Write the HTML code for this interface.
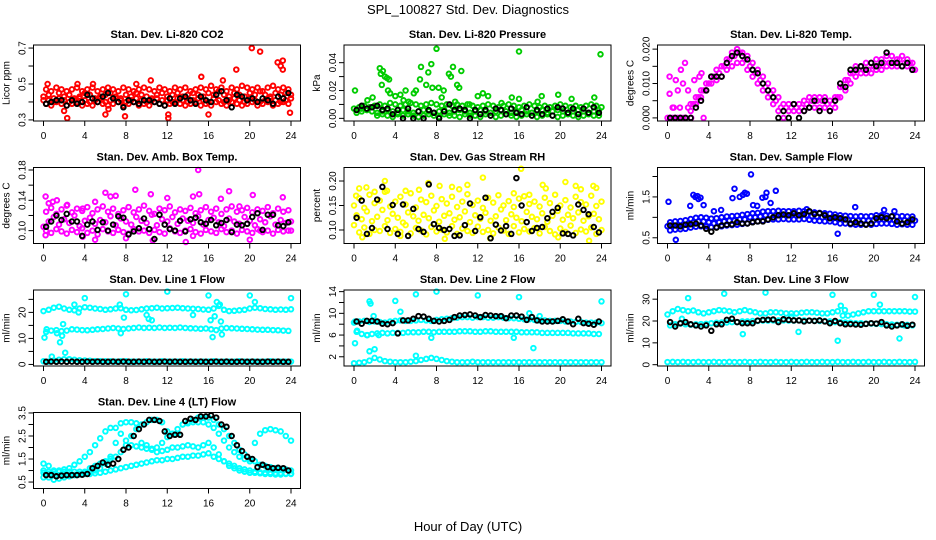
<!DOCTYPE html>
<html><head><meta charset="utf-8"><title>SPL_100827 Std. Dev. Diagnostics</title>
<style>
html,body{margin:0;padding:0;background:#fff;}
svg{display:block;font-family:"Liberation Sans",Arial,sans-serif;}
</style></head>
<body>
<svg id="chart" width="936" height="540" viewBox="0 0 936 540" xmlns="http://www.w3.org/2000/svg">
<rect x="0" y="0" width="936" height="540" fill="#fff"/>
<text x="468" y="14" text-anchor="middle" font-size="13">SPL_100827  Std. Dev. Diagnostics</text>
<text x="468" y="531" text-anchor="middle" font-size="13">Hour of Day (UTC)</text>
</svg>
<script>
// shared hour categories
const hA = [0,0.5,1,1.5,2,2.5,3,3.5,4,4.5,5,5.5,6,6.5,7,7.5,8,8.5,9,9.5,10,10.5,11,11.5,12,12.5,13,13.5,14,14.5,15,15.5,16,16.5,17,17.5,18,18.5,19,19.5,20,20.5,21,21.5,22,22.5,23,23.5,24];
const hB = [0.25,0.75,1.25,1.75,2.25,2.75,3.25,3.75,4.25,4.75,5.25,5.75,6.25,6.75,7.25,7.75,8.25,8.75,9.25,9.75,10.25,10.75,11.25,11.75,12.25,12.75,13.25,13.75,14.25,14.75,15.25,15.75,16.25,16.75,17.25,17.75,18.25,18.75,19.25,19.75,20.25,20.75,21.25,21.75,22.25,22.75,23.25,23.75];
const xTicks = [0,4,8,12,16,20,24];

// CO2
const co2A = [0.43,0.44,0.42,0.45,0.43,0.44,0.42,0.43,0.45,0.44,0.42,0.43,0.44,0.45,0.43,0.42,0.44,0.43,0.45,0.44,0.43,0.42,0.44,0.45,0.43,0.44,0.45,0.43,0.44,0.45,0.44,0.43,0.45,0.44,0.46,0.44,0.43,0.45,0.44,0.43,0.45,0.44,0.46,0.44,0.43,0.45,0.44,0.45,0.44];
const co2B = [0.39,0.38,0.40,0.39,0.38,0.39,0.40,0.38,0.39,0.38,0.40,0.39,0.38,0.39,0.40,0.38,0.39,0.40,0.38,0.39,0.38,0.40,0.39,0.38,0.39,0.40,0.39,0.38,0.39,0.40,0.38,0.39,0.38,0.40,0.39,0.38,0.40,0.39,0.38,0.39,0.40,0.38,0.39,0.40,0.38,0.39,0.40,0.39];
const co2C = [0.47,0.46,0.48,0.47,0.46,0.47,0.48,0.46,0.47,0.48,0.46,0.47,0.48,0.47,0.46,0.48,0.47,0.46,0.47,0.48,0.47,0.46,0.48,0.47,0.46,0.48,0.47,0.48,0.46,0.47,0.48,0.47,0.49,0.47,0.48,0.46,0.48,0.47,0.49,0.48,0.47,0.48,0.46,0.48,0.49,0.47,0.48,0.47];
const co2D = [0.41,0.41,0.40,0.42,0.41,0.40,0.41,0.42,0.41,0.40,0.41,0.42,0.40,0.41,0.42,0.41,0.40,0.41,0.42,0.41,0.40,0.41,0.42,0.41,0.41,0.40,0.42,0.41,0.40,0.41,0.42,0.41,0.40,0.42,0.41,0.40,0.41,0.42,0.41,0.40,0.42,0.41,0.40,0.41,0.42,0.41,0.40,0.41,0.42];
const co2OutX = [0.4,2.3,3.3,4.8,6,7.9,9,10.4,12.1,12.1,15.3,16,18.7,20.2,21,22.7,23,23.2,23.2,23.9,17.4,2,6.3];
const co2OutY = [0.50,0.31,0.50,0.50,0.33,0.32,0.50,0.52,0.31,0.33,0.54,0.33,0.58,0.70,0.68,0.62,0.60,0.63,0.58,0.34,0.52,0.35,0.36];
const co2K = [0.39,0.40,0.41,0.41,0.38,0.41,0.39,0.40,0.44,0.42,0.40,0.43,0.45,0.42,0.40,0.37,0.41,0.40,0.39,0.41,0.41,0.40,0.39,0.38,0.42,0.39,0.42,0.43,0.41,0.39,0.43,0.41,0.40,0.44,0.46,0.41,0.37,0.44,0.43,0.41,0.42,0.40,0.42,0.41,0.39,0.43,0.42,0.45];

// Pressure
const prA = [0.007,0.008,0.009,0.008,0.009,0.010,0.009,0.011,0.010,0.009,0.010,0.011,0.010,0.009,0.010,0.011,0.010,0.009,0.010,0.009,0.010,0.009,0.010,0.009,0.008,0.009,0.010,0.009,0.008,0.009,0.010,0.009,0.008,0.009,0.010,0.009,0.008,0.009,0.008,0.009,0.010,0.009,0.008,0.009,0.008,0.009,0.010,0.009,0.008];
const prB = [0.004,0.005,0.006,0.005,0.004,0.005,0.006,0.005,0.004,0.006,0.005,0.004,0.005,0.006,0.005,0.004,0.005,0.006,0.004,0.005,0.006,0.005,0.004,0.005,0.006,0.005,0.004,0.005,0.006,0.005,0.004,0.005,0.006,0.005,0.004,0.005,0.006,0.004,0.005,0.006,0.005,0.004,0.005,0.006,0.005,0.004,0.005,0.006];
const prC = [0.006,0.007,0.006,0.008,0.002,0.003,0.002,0.001,0.003,0.002,0.003,0.002,0.001,0.002,0.003,0.002,0.001,0.003,0.002,0.002,0.001,0.003,0.002,0.002,0.001,0.003,0.002,0.001,0.002,0.003,0.002,0.001,0.002,0.003,0.002,0.001,0.002,0.003,0.002,0.001,0.002,0.003,0.002,0.001,0.002,0.003,0.002,0.002];
const prOutX = [0.1,1.8,2.5,2.6,2.8,3,3.2,3.4,2.7,3.3,3.5,4,4.5,5,5.8,6,6.4,6.5,7,7.2,7.5,7.6,8,8.2,8.7,9.2,9.4,9.6,10,10.2,10.4,11.2,12,12.5,13,14.3,15.3,16,16,17.8,18.2,19.8,21.1,23.3,23.9,1.3,4.8,5.3,8.5,9.8];
const prOutY = [0.020,0.015,0.036,0.032,0.034,0.030,0.029,0.028,0.024,0.020,0.018,0.016,0.017,0.020,0.018,0.020,0.028,0.037,0.024,0.033,0.039,0.022,0.050,0.022,0.020,0.032,0.030,0.037,0.024,0.022,0.034,0.010,0.016,0.018,0.016,0.011,0.015,0.048,0.014,0.012,0.016,0.017,0.014,0.015,0.046,0.013,0.013,0.012,0.015,0.012];
const prK = [0.006,0.009,0.007,0.008,0.009,0.006,0.007,0.003,0.006,0.000,0.007,0.000,0.005,0.000,0.006,0.004,0.000,0.005,0.010,0.006,0.007,0.006,0.000,0.006,0.003,0.006,0.002,0.007,0.006,0.003,0.007,0.004,0.003,0.008,0.002,0.006,0.003,0.007,0.002,0.008,0.007,0.004,0.007,0.003,0.007,0.004,0.008,0.004];

// Li-820 temp
const tmA = [0,0,0,0,0.003,0.004,0.006,0.008,0.010,0.012,0.013,0.015,0.017,0.018,0.019,0.017,0.015,0.013,0.011,0.009,0.007,0.005,0.003,0.003,0.003,0.003,0.003,0.004,0.005,0.005,0.005,0.004,0.004,0.006,0.009,0.011,0.013,0.014,0.014,0.014,0.015,0.015,0.016,0.016,0.016,0.017,0.016,0.016,0.014];
const tmB = [0,0,0,0,0.002,0.004,0.006,0.008,0.010,0.011,0.012,0.014,0.015,0.016,0.016,0.014,0.012,0.010,0.008,0.006,0.004,0.002,0.000,0.002,0.002,0.002,0.002,0.003,0.003,0.003,0.003,0.002,0.003,0.006,0.008,0.010,0.012,0.013,0.013,0.013,0.014,0.014,0.015,0.015,0.015,0.015,0.015,0.014];
const tmC = [0,0,0,0,0.004,0.006,0.008,0.010,0.012,0.014,0.015,0.017,0.019,0.020,0.019,0.018,0.016,0.014,0.012,0.010,0.008,0.006,0.004,0.004,0.004,0.004,0.005,0.006,0.006,0.006,0.006,0.005,0.006,0.009,0.011,0.013,0.015,0.015,0.016,0.016,0.017,0.017,0.018,0.018,0.017,0.018,0.017,0.016];
const tmOutX = [0.2,0.2,0.5,0.8,1,1.3,1.5,1.7,2,2.6,3.1,3.3,0.6,1.2,2.3,3.5];
const tmOutY = [0.007,0.012,0.003,0.011,0.008,0.014,0.010,0.016,0.008,0.011,0.012,0.013,0.003,0.003,0.0,0.0];
const tmK = [0,0,0,0,0,0.003,0.005,0.008,0.012,0.012,0.012,0.016,0.018,0.019,0.018,0.017,0.014,0.013,0.010,0.008,0.006,0.000,0.002,0.000,0.004,0.000,0.002,0.003,0.005,0.002,0.005,0.002,0.005,0.010,0.009,0.014,0.014,0.015,0.014,0.016,0.015,0.016,0.019,0.016,0.016,0.015,0.016,0.014];

// Amb box temp
const amA = [0.105,0.112,0.118,0.108,0.115,0.110,0.120,0.106,0.113,0.117,0.109,0.114,0.111,0.119,0.107,0.116,0.112,0.108,0.118,0.113,0.110,0.121,0.107,0.115,0.112,0.118,0.109,0.116,0.113,0.110,0.119,0.108,0.114,0.117,0.111,0.106,0.116,0.112,0.109,0.118,0.113,0.107,0.115,0.111,0.119,0.108,0.114,0.110,0.112];
const amB = [0.125,0.130,0.122,0.128,0.133,0.124,0.129,0.126,0.131,0.123,0.128,0.132,0.125,0.129,0.122,0.127,0.131,0.124,0.128,0.133,0.126,0.122,0.129,0.127,0.132,0.124,0.128,0.126,0.130,0.123,0.127,0.131,0.125,0.129,0.122,0.128,0.132,0.125,0.127,0.130,0.124,0.128,0.126,0.131,0.123,0.129,0.125,0.127];
const amC = [0.100,0.097,0.102,0.099,0.096,0.101,0.098,0.103,0.097,0.100,0.095,0.102,0.099,0.097,0.101,0.098,0.096,0.102,0.099,0.100,0.097,0.101,0.098,0.096,0.103,0.099,0.097,0.100,0.102,0.098,0.096,0.101,0.099,0.097,0.102,0.098,0.100,0.096,0.101,0.099,0.097,0.102,0.098,0.100,0.096,0.101,0.099,0.100];
const amOutX = [0.2,0.5,0.9,1.3,2.3,3.8,5,6,6.5,7,8.9,10.4,12,14.5,15,15.1,17.2,18,19,20.3,23.2,0.2,3.8,5,8,10.6,13.8,14.5,20,21,24];
const amOutY = [0.145,0.136,0.138,0.140,0.134,0.129,0.138,0.150,0.145,0.146,0.154,0.148,0.143,0.145,0.180,0.148,0.142,0.152,0.132,0.147,0.144,0.094,0.092,0.088,0.090,0.087,0.085,0.093,0.088,0.100,0.100];
const amK = [0.105,0.112,0.120,0.114,0.122,0.112,0.112,0.093,0.108,0.112,0.101,0.111,0.100,0.108,0.119,0.117,0.095,0.099,0.103,0.116,0.102,0.089,0.121,0.108,0.102,0.100,0.113,0.099,0.115,0.117,0.111,0.109,0.114,0.107,0.110,0.114,0.098,0.108,0.107,0.109,0.118,0.123,0.101,0.121,0.121,0.107,0.106,0.111];

// Gas stream RH
const rhA = [0.110,0.095,0.105,0.092,0.100,0.098,0.108,0.094,0.102,0.096,0.110,0.093,0.104,0.099,0.091,0.106,0.097,0.101,0.095,0.108,0.092,0.103,0.098,0.094,0.107,0.096,0.100,0.093,0.105,0.099,0.092,0.108,0.095,0.102,0.097,0.104,0.093,0.106,0.098,0.091,0.103,0.096,0.109,0.094,0.101,0.097,0.105,0.092,0.100];
const rhB = [0.130,0.122,0.138,0.118,0.127,0.141,0.120,0.133,0.125,0.115,0.136,0.128,0.119,0.131,0.124,0.140,0.117,0.129,0.134,0.121,0.126,0.138,0.116,0.130,0.123,0.135,0.119,0.128,0.142,0.120,0.132,0.125,0.118,0.137,0.127,0.122,0.134,0.117,0.129,0.139,0.121,0.131,0.124,0.136,0.119,0.128,0.133,0.122];
const rhC = [0.150,0.165,0.145,0.172,0.155,0.160,0.178,0.148,0.158,0.168,0.152,0.175,0.146,0.162,0.157,0.170,0.149,0.163,0.154,0.168,0.147,0.158,0.173,0.151,0.160,0.145,0.166,0.156,0.171,0.150,0.159,0.147,0.164,0.169,0.153,0.158,0.148,0.166,0.155,0.172,0.150,0.161,0.146,0.168,0.157,0.152,0.170,0.149,0.158];
const rhOutX = [0.2,0.5,1.2,2,3,3.2,5,6.3,7.2,8.3,9.5,10.2,11,12.5,15.5,16.2,17,18.3,18.6,20.5,21.5,22,23.2,23.5,0.8,4.5,8.8,13.2,19.8,22.8];
const rhOutY = [0.170,0.185,0.187,0.178,0.200,0.180,0.180,0.182,0.196,0.190,0.188,0.183,0.192,0.207,0.175,0.225,0.172,0.192,0.185,0.198,0.190,0.183,0.190,0.186,0.085,0.088,0.082,0.083,0.085,0.078];
const rhK = [0.125,0.160,0.092,0.104,0.162,0.188,0.102,0.151,0.092,0.152,0.088,0.143,0.102,0.096,0.193,0.112,0.104,0.100,0.102,0.088,0.089,0.110,0.154,0.098,0.126,0.166,0.083,0.111,0.099,0.108,0.092,0.206,0.150,0.116,0.098,0.104,0.106,0.124,0.137,0.145,0.093,0.092,0.089,0.152,0.141,0.132,0.106,0.095];

// Sample flow
const sfA = [0.78,0.80,0.80,0.82,0.85,0.88,0.90,0.90,0.88,0.85,0.88,0.90,0.92,0.92,0.95,0.95,1.00,1.00,1.02,1.05,1.05,1.05,1.06,1.05,1.05,1.05,1.06,1.05,1.03,1.02,1.00,1.00,1.00,0.98,0.95,0.95,0.93,0.92,0.93,0.92,0.93,0.95,0.95,0.95,0.93,0.92,0.93,0.92,0.92];
const sfB = [0.68,0.70,0.71,0.72,0.75,0.77,0.78,0.78,0.76,0.76,0.78,0.80,0.81,0.82,0.84,0.85,0.89,0.90,0.92,0.94,0.95,0.95,0.96,0.95,0.95,0.95,0.96,0.94,0.92,0.91,0.90,0.90,0.88,0.85,0.85,0.83,0.82,0.82,0.83,0.82,0.84,0.85,0.85,0.84,0.82,0.83,0.82,0.82];
const sfC = [0.88,0.90,0.91,0.93,0.96,0.99,1.00,0.99,0.97,0.98,1.00,1.02,1.03,1.04,1.06,1.08,1.10,1.11,1.14,1.15,1.15,1.16,1.15,1.15,1.15,1.16,1.15,1.14,1.12,1.11,1.10,1.09,1.07,1.05,1.04,1.03,1.02,1.03,1.02,1.03,1.05,1.05,1.04,1.03,1.02,1.03,1.02,1.02];
const sfOutX = [0.1,0.8,2.2,2.5,2.7,2.9,3,3.2,3.5,4.5,5.2,6.3,6.5,7,7.3,7.5,7.7,8.1,8.3,8.7,9.2,9.5,9.6,10,10.5,16.5,18.2,21,22,13.5];
const sfOutY = [1.38,0.45,1.28,1.55,1.50,1.52,1.45,1.48,1.30,1.15,1.18,1.47,1.70,1.50,1.55,1.60,1.58,2.05,1.30,1.28,1.48,1.50,1.60,1.35,1.65,0.60,1.25,1.18,1.15,1.20];
const sfK = [0.80,0.80,0.78,0.82,0.83,0.85,0.80,0.72,0.65,0.75,0.80,0.82,0.83,0.88,0.85,0.85,0.88,0.90,0.90,0.95,1.00,1.05,1.07,1.05,1.10,1.05,1.08,1.15,1.08,1.10,1.05,0.98,1.00,0.98,0.95,0.85,0.88,0.85,0.82,0.85,0.98,1.00,0.98,1.02,0.90,0.85,0.88,0.95];

// Line 1 flow
const l1A = [20.5,21.0,21.8,22.2,21.5,21.0,20.8,21.5,22.0,21.8,21.5,21.3,21.0,21.2,21.5,21.6,21.0,20.8,20.9,21.2,21.5,21.6,21.8,21.5,21.6,21.7,21.8,21.6,21.5,21.4,21.3,21.1,21.0,21.5,22.5,21.0,20.5,20.6,20.8,21.0,21.5,21.8,21.6,21.3,21.2,21.0,21.1,21.0,21.2];
const l1B = [12.5,13.0,13.2,12.8,13.0,13.5,13.4,13.2,13.1,13.3,13.5,13.6,13.8,14.0,13.8,13.6,13.8,14.0,14.2,14.0,14.1,14.0,14.2,14.0,14.1,14.0,14.2,14.0,13.9,13.8,13.7,13.8,13.5,13.2,13.8,14.0,13.9,13.8,13.7,13.6,13.5,13.4,13.3,13.3,13.2,13.1,13.0,12.9];
const l1C = [1.2,1.1,1.5,1.8,2.0,1.9,1.8,1.6,1.5,1.4,1.3,1.3,1.2,1.2,1.1,1.2,1.2,1.1,1.1,1.1,1.2,1.1,1.1,1.2,1.1,1.1,1.1,1.2,1.1,1.1,1.1,1.1,1.1,1.2,1.1,1.1,1.1,1.1,1.2,1.1,1.1,1.1,1.1,1.1,1.2,1.1,1.1,1.1,1.1];
const l1OutX = [0.1,0.3,0.8,1.3,1.6,1.8,1.9,2.1,2.5,4,7.4,7.5,7.8,8,10,10.2,10.5,12,14.5,16,16.2,16.4,16.6,16.8,17.2,17.3,17.1,20,20.5,24,3,3.4];
const l1OutY = [10.3,13.5,3.0,12.0,8.5,11.0,15.5,4.5,2.0,25.5,23.0,12.0,18.0,27.0,19.0,17.5,17.0,28.0,19.0,26.5,17.0,10.5,18.5,24.0,16.5,11.5,23.0,26.5,24.0,25.5,23.0,20.0];
const l1K = [1.0,1.1,1.0,1.1,1.0,1.1,1.0,1.0,1.1,1.0,1.1,1.0,1.0,1.1,1.0,1.1,1.0,1.0,1.1,1.0,1.1,1.0,1.0,1.1,1.0,1.1,1.0,1.0,1.1,1.0,1.1,1.0,1.0,1.1,1.0,1.1,1.0,1.0,1.1,1.0,1.1,1.0,1.0,1.1,1.0,1.1,1.0,1.0];

// Line 2 flow
const l2A = [8.3,8.5,8.6,8.4,8.5,8.4,8.3,8.5,8.6,8.7,8.6,8.6,8.7,8.8,8.7,8.6,8.8,8.9,9.0,9.1,9.2,9.3,9.3,9.2,9.3,9.3,9.2,9.2,9.3,9.2,9.1,9.1,9.0,8.9,8.9,8.8,8.7,8.7,8.6,8.6,8.6,8.5,8.5,8.4,8.4,8.3,8.3,8.3,8.2];
const l2B = [6.6,6.2,6.0,6.2,6.3,6.4,6.3,6.4,6.4,6.4,6.5,6.5,6.5,6.6,6.6,6.5,6.6,6.6,6.6,6.6,6.7,6.7,6.7,6.6,6.6,6.7,6.7,6.6,6.6,6.6,6.6,6.6,6.5,6.5,6.5,6.5,6.4,6.4,6.4,6.4,6.4,6.4,6.3,6.3,6.3,6.3,6.2,6.2];
const l2C = [0.8,0.9,1.0,1.3,1.8,1.5,1.2,1.1,1.0,1.0,1.0,1.1,1.2,1.4,1.6,1.8,1.6,1.4,1.2,1.1,1.0,1.0,1.0,1.1,1.0,1.0,1.0,1.0,1.0,1.0,1.0,1.0,1.0,1.0,1.0,1.0,1.0,1.0,1.0,1.0,1.0,1.0,1.0,1.0,1.0,1.0,1.0,1.0,1.0];
const l2OutX = [0.1,0.1,0.3,1.5,1.6,1.9,1.3,1.5,2,2.4,4,4.5,6,6,7.5,8,12,16,17,17.4,18,24,15.5];
const l2OutY = [4.5,8.5,6.8,12.2,11.8,9.5,6.0,3.0,3.4,6.0,12.3,10.3,13.5,2.2,5.5,14.0,13.3,13.0,10.0,3.6,9.5,12.2,5.5];
const l2K = [8.5,8.1,8.6,8.6,8.5,8.1,8.0,8.2,6.3,8.7,8.7,9.0,9.5,9.4,9.0,8.6,8.5,8.6,8.8,9.3,9.6,9.7,9.8,9.6,9.3,9.7,9.6,9.5,9.5,9.1,9.6,9.6,9.4,8.8,9.3,8.7,8.5,8.5,8.5,8.6,8.9,8.5,8.0,9.0,8.2,8.1,7.9,8.5];

// Line 3 flow
const l3A = [23.0,24.5,25.5,25.0,24.5,24.8,24.0,23.5,24.0,24.5,25.0,24.8,24.5,24.0,24.5,25.0,24.5,24.0,23.5,23.5,24.0,24.0,23.8,23.5,23.5,23.5,23.8,24.0,24.0,23.8,23.5,23.5,24.0,24.5,22.5,22.5,23.0,23.5,24.0,24.5,24.5,24.5,24.5,24.5,24.5,24.5,24.5,24.3,24.3];
const l3B = [18.0,18.5,18.8,18.5,18.3,18.5,18.6,18.7,19.0,19.2,19.3,19.3,19.5,19.5,19.8,19.8,20.0,20.0,20.2,20.2,20.3,20.3,20.3,20.2,20.2,20.3,20.3,20.2,20.2,20.0,20.0,19.8,19.5,19.5,19.3,19.2,19.0,19.0,18.8,18.8,18.7,18.6,18.5,18.4,18.3,18.2,18.2,18.0];
const l3C = [1.2,1.3,1.2,1.3,1.2,1.2,1.3,1.2,1.2,1.3,1.2,1.2,1.3,1.2,1.2,1.3,1.2,1.2,1.3,1.2,1.2,1.3,1.2,1.2,1.3,1.2,1.2,1.3,1.2,1.2,1.3,1.2,1.2,1.3,1.2,1.2,1.3,1.2,1.2,1.3,1.2,1.2,1.3,1.2,1.2,1.3,1.2,1.2,1.3];
const l3OutX = [2,5.5,7.3,9.5,12,12.7,16,16.5,16.8,17.2,20,20.6,22.5,24,23,1.4];
const l3OutY = [30.5,32.5,14.0,33.0,22.0,15.0,32.0,11.0,27.0,25.0,32.0,27.5,12.0,31.0,18.0,21.0];
const l3K = [19.5,17.5,19.0,19.5,18.5,18.0,17.5,18.0,15.5,18.5,18.5,20.5,21.0,19.5,19.0,19.0,19.0,20.2,20.5,20.6,20.7,19.5,20.8,20.5,20.3,20.3,19.8,20.2,20.0,20.3,19.8,19.0,20.0,19.0,18.5,18.6,18.4,18.3,18.7,19.0,18.8,19.5,18.0,17.5,18.0,18.5,17.8,18.3];

// Line 4 (LT) flow
const l4A = [0.90,0.85,0.85,0.80,0.80,0.82,0.82,0.83,0.85,0.85,0.88,0.90,0.95,1.00,1.05,1.10,1.15,1.20,1.25,1.30,1.35,1.40,1.45,1.45,1.50,1.50,1.55,1.60,1.60,1.65,1.65,1.70,1.75,1.60,1.50,1.40,1.30,1.20,1.10,1.05,1.00,0.95,0.92,0.90,0.90,0.88,0.88,0.87,0.87];
const l4B = [1.30,1.20,1.00,0.95,0.95,0.95,0.95,0.95,0.95,1.10,1.20,1.30,1.40,1.50,1.60,1.80,2.10,2.50,2.80,3.00,3.10,3.20,3.20,3.10,2.70,2.60,2.60,3.00,3.10,3.20,3.30,3.30,3.30,3.20,3.00,2.80,2.50,2.20,1.90,1.70,1.50,1.40,1.25,1.20,1.15,1.10,1.05,1.05,1.00];
const l4C = [1.00,0.95,0.95,1.00,1.05,1.10,1.25,1.40,1.60,1.80,2.10,2.40,2.70,2.85,2.85,2.60,2.30,2.10,2.05,2.00,1.95,1.95,2.00,2.20,2.45,2.60,2.80,3.00,3.05,3.10,3.10,3.10,3.00,2.85,2.60,2.30,2.00,1.80,1.60,1.50,1.40,2.20,2.60,2.75,2.80,2.75,2.70,2.50,2.30];
const l4D = [0.70,0.70,0.60,0.65,0.70,0.75,0.80,0.85,0.90,0.95,1.00,1.10,1.30,1.60,2.20,3.05,3.10,3.10,3.05,2.20,2.10,1.90,1.80,1.85,1.90,2.00,2.00,2.05,2.10,2.05,2.00,2.10,2.20,2.00,1.70,1.40,1.20,1.10,1.00,0.95,0.90,0.90,0.88,0.85,0.85,0.83,0.83,0.85,0.85];
const l4K = [0.80,0.80,0.75,0.78,0.80,0.80,0.80,0.82,0.85,1.10,1.20,1.35,1.25,1.30,1.50,1.90,2.00,2.50,2.80,3.00,3.20,3.20,3.15,2.70,2.50,2.55,2.55,3.15,3.25,3.20,3.35,3.35,3.40,3.30,3.00,2.90,2.50,2.10,1.85,1.60,1.50,1.15,1.25,1.15,1.10,1.12,1.10,1.00];

// panel layout (positions only)
const NS = 'http://www.w3.org/2000/svg';
const svg = document.getElementById('chart');
const colLeft = [33.5, 344, 657.5];
const rowTop = [45, 167.5, 290, 412.5];
const boxW = 267, boxH = 76;

const panels = [
 {id:'co2', title:'Stan. Dev. Li-820 CO2', ylab:'Licor ppm', col:0,row:0, ymin:0.294, ymax:0.717, color:'#ff0000',
  series:[[hA,co2A],[hB,co2B],[hB,co2C],[hA,co2D],[co2OutX,co2OutY]], black:[hB,co2K],
  ticks:[0.3,0.4,0.5,0.6,0.7], labels:['0.3','','0.5','','0.7']},
 {id:'pressure', title:'Stan. Dev. Li-820 Pressure', ylab:'kPa', col:1,row:0, ymin:-0.0019, ymax:0.0527, color:'#00cc00',
  series:[[hA,prA],[hB,prB],[hB,prC],[prOutX,prOutY]], black:[hB,prK],
  ticks:[0,0.01,0.02,0.03,0.04], labels:['0.00','','0.02','','0.04']},
 {id:'li820-temp', title:'Stan. Dev. Li-820 Temp.', ylab:'degrees C', col:2,row:0, ymin:-0.0009, ymax:0.0212, color:'#ff00ff',
  series:[[hA,tmA],[hB,tmB],[hB,tmC],[tmOutX,tmOutY]], black:[hB,tmK],
  ticks:[0,0.005,0.01,0.015,0.02], labels:['0.000','','0.010','','0.020']},
 {id:'amb-box-temp', title:'Stan. Dev. Amb. Box Temp.', ylab:'degrees C', col:0,row:1, ymin:0.083, ymax:0.1833, color:'#ff00ff',
  series:[[hA,amA],[hB,amB],[hB,amC],[amOutX,amOutY]], black:[hB,amK],
  ticks:[0.10,0.12,0.14,0.16,0.18], labels:['0.10','','0.14','','0.18']},
 {id:'gas-stream-rh', title:'Stan. Dev. Gas Stream RH', ylab:'percent', col:1,row:1, ymin:0.0724, ymax:0.2276, color:'#ffff00',
  series:[[hA,rhA],[hB,rhB],[hA,rhC],[rhOutX,rhOutY]], black:[hB,rhK],
  ticks:[0.10,0.15,0.20], labels:['0.10','0.15','0.20']},
 {id:'sample-flow', title:'Stan. Dev. Sample Flow', ylab:'ml/min', col:2,row:1, ymin:0.36, ymax:2.22, color:'#0000ff',
  series:[[hA,sfA],[hB,sfB],[hB,sfC],[sfOutX,sfOutY]], black:[hB,sfK],
  ticks:[0.5,1.0,1.5,2.0], labels:['0.5','','1.5','']},
 {id:'line1-flow', title:'Stan. Dev. Line 1 Flow', ylab:'ml/min', col:0,row:2, ymin:-0.6, ymax:28.6, color:'#00ffff',
  series:[[hA,l1A],[hB,l1B],[hA,l1C],[l1OutX,l1OutY]], black:[hB,l1K],
  ticks:[0,5,10,15,20,25], labels:['0','','10','','20','']},
 {id:'line2-flow', title:'Stan. Dev. Line 2 Flow', ylab:'ml/min', col:1,row:2, ymin:0.3, ymax:14.3, color:'#00ffff',
  series:[[hA,l2A],[hB,l2B],[hA,l2C],[l2OutX,l2OutY]], black:[hB,l2K],
  ticks:[2,4,6,8,10,12,14], labels:['2','','6','','10','','14']},
 {id:'line3-flow', title:'Stan. Dev. Line 3 Flow', ylab:'ml/min', col:2,row:2, ymin:-0.6, ymax:34.2, color:'#00ffff',
  series:[[hA,l3A],[hB,l3B],[hA,l3C],[l3OutX,l3OutY]], black:[hB,l3K],
  ticks:[0,10,20,30], labels:['0','10','20','30']},
 {id:'line4-flow', title:'Stan. Dev. Line 4 (LT) Flow', ylab:'ml/min', col:0,row:3, ymin:0.22, ymax:3.52, color:'#00ffff',
  series:[[hA,l4A],[hA,l4B],[hA,l4C],[hA,l4D]], black:[hB,l4K],
  ticks:[0.5,1.0,1.5,2.0,2.5,3.0,3.5], labels:['0.5','','1.5','','2.5','','3.5']}
];

function mk(tag, parent){ const e=document.createElementNS(NS,tag); parent.appendChild(e); return e; }

panels.forEach(p=>{
  const L = colLeft[p.col], T = rowTop[p.row];
  const g = mk('g', svg);
  
  
  const xS = h => L + 10 + h*(247.5/24);
  const yS = v => T + boxH - (v - p.ymin)/(p.ymax - p.ymin)*boxH;

  const pts = mk('g', g);
  
  
  const drawSeries = (xs, ys, color, nm) => {
    for (let i=0;i<ys.length && i<xs.length;i++){
      const c = mk('circle', pts);
      
      
      c.setAttribute('cx', xS(xs[i]).toFixed(1));
      c.setAttribute('cy', yS(ys[i]).toFixed(1));
      c.setAttribute('r', '2.3');
      c.setAttribute('fill', 'none');
      c.setAttribute('stroke', color);
      c.setAttribute('stroke-width', '1.9');
    }
  };
  p.series.forEach(s => drawSeries(s[0], s[1], p.color, p.id + '-point'));
  drawSeries(p.black[0], p.black[1], '#000', p.id + '-hourly-point');

  const box = mk('rect', g);
  
  
  box.setAttribute('x', L); box.setAttribute('y', T);
  box.setAttribute('width', boxW); box.setAttribute('height', boxH);
  box.setAttribute('fill', 'none'); box.setAttribute('stroke', '#000'); box.setAttribute('stroke-width', '1');

  const tt = mk('text', g);
  
  
  tt.setAttribute('x', L + boxW/2); tt.setAttribute('y', T - 7);
  tt.setAttribute('text-anchor', 'middle'); tt.setAttribute('font-size', '11'); tt.setAttribute('font-weight', 'bold');
  tt.textContent = p.title;

  const yl = mk('text', g);
  
  
  yl.setAttribute('transform', 'translate(' + (L-24) + ',' + (T+boxH/2) + ') rotate(-90)');
  yl.setAttribute('text-anchor', 'middle'); yl.setAttribute('font-size', '10');
  yl.textContent = p.ylab;

  const xa = mk('g', g);
  
  
  const xl = mk('line', xa);
  
  
  xl.setAttribute('x1', xS(0)); xl.setAttribute('x2', xS(24));
  xl.setAttribute('y1', T+boxH); xl.setAttribute('y2', T+boxH); xl.setAttribute('stroke', '#000');
  xTicks.forEach(h=>{
    const tk = mk('line', xa);
    
    
    tk.setAttribute('x1', xS(h)); tk.setAttribute('x2', xS(h));
    tk.setAttribute('y1', T+boxH); tk.setAttribute('y2', T+boxH+5); tk.setAttribute('stroke', '#000');
    const lb = mk('text', xa);
    
    
    lb.setAttribute('x', xS(h)); lb.setAttribute('y', T+boxH+18);
    lb.setAttribute('text-anchor', 'middle'); lb.setAttribute('font-size', '10');
    lb.textContent = String(h);
  });

  const ya = mk('g', g);
  
  
  const yline = mk('line', ya);
  
  
  yline.setAttribute('x1', L); yline.setAttribute('x2', L);
  yline.setAttribute('y1', yS(p.ticks[0])); yline.setAttribute('y2', yS(p.ticks[p.ticks.length-1])); yline.setAttribute('stroke', '#000');
  p.ticks.forEach((v,i)=>{
    const tk = mk('line', ya);
    
    
    tk.setAttribute('x1', L-5); tk.setAttribute('x2', L);
    tk.setAttribute('y1', yS(v)); tk.setAttribute('y2', yS(v)); tk.setAttribute('stroke', '#000');
    if (p.labels[i]) {
      const lb = mk('text', ya);
      
      
      lb.setAttribute('transform', 'translate(' + (L-8) + ',' + yS(v).toFixed(1) + ') rotate(-90)');
      lb.setAttribute('text-anchor', 'middle'); lb.setAttribute('font-size', '10');
      lb.textContent = p.labels[i];
    }
  });
});
</script>
</body></html>
